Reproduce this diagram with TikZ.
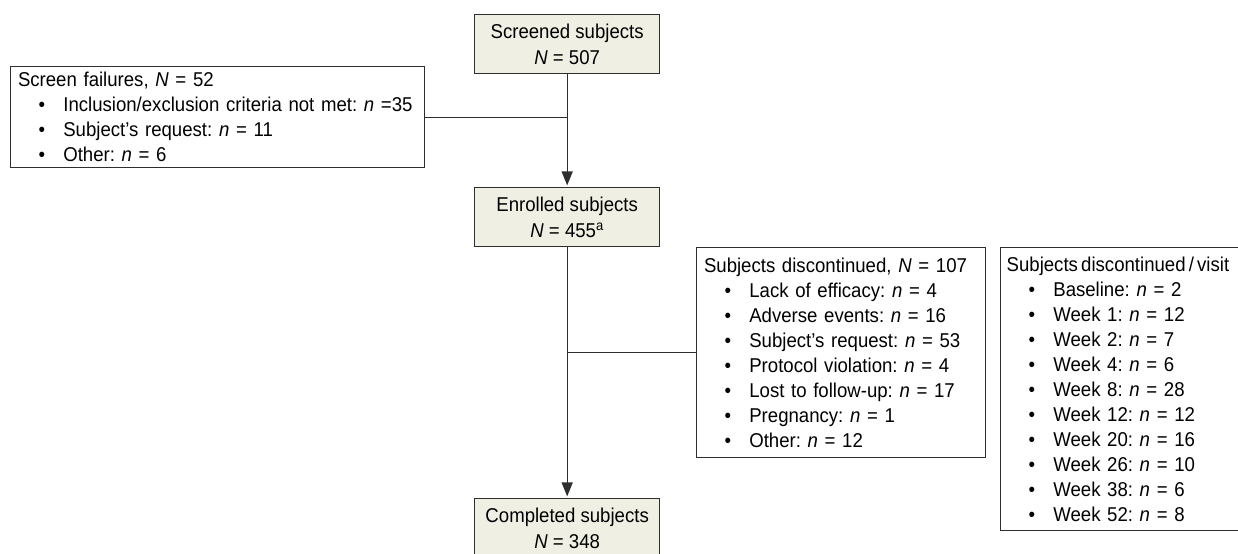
\documentclass[tikz,border=0pt]{standalone}
\usepackage{fontspec}
\setmainfont[FakeStretch=0.93]{Liberation Sans}
\usepackage{tikz}
\usetikzlibrary{arrows.meta}

\definecolor{stagefill}{HTML}{EFF0E3}
\definecolor{linegray}{HTML}{2E2E2E}

% bullet line inside a reason box
\newcommand{\bitem}{\hspace*{15.5pt}\makebox[18.5pt][l]{\textbullet}}

\tikzset{
    stage/.style={draw=linegray, fill=stagefill, line width=1pt, anchor=north west,
        minimum width=138.75pt, minimum height=44.25pt, inner sep=0pt, align=center,
        font=\fontsize{15pt}{19.5pt}\selectfont\frenchspacing},
    reasons/.style={draw=linegray, fill=white, line width=1pt, anchor=north west,
        inner xsep=5.5pt, inner ysep=0pt, align=left,
        font=\fontsize{15pt}{18.75pt}\selectfont\frenchspacing},
    flow/.style={draw=linegray, line width=1pt},
    flowarrow/.style={flow, -{Triangle[length=10.5pt,width=8.25pt]}, shorten >=1.2pt}
}

\begin{document}
\begin{tikzpicture}[x=0.75pt, y=-0.75pt]
            \useasboundingbox (0,0) rectangle (1238,553);
            \clip (0,0) rectangle (1238,553);
            % main stages
            \node[stage] (screened) at (474,14) {Screened subjects\\\textit{N} = 507};
            \node[stage] (enrolled) at (474,187) {Enrolled subjects\\\textit{N} = 455\textsuperscript{a}};
            \node[stage] (completed) at (474,498) {Completed subjects\\\textit{N} = 348};
            % side boxes
            \node[reasons, text width=299.5pt, minimum height=75.75pt] (failures) at (10,66) {%
                Screen failures, \textit{N} = 52\\
                \bitem Inclusion/exclusion criteria not met: \textit{n} =35\\
                \bitem Subject’s request: \textit{n} = 11\\
                \bitem Other: \textit{n} = 6};
            \node[reasons, text width=205.75pt, minimum height=157.5pt] (discont) at (696,247) {%
                Subjects discontinued, \textit{N} = 107\\
                \bitem Lack of efficacy: \textit{n} = 4\\
                \bitem Adverse events: \textit{n} = 16\\
                \bitem Subject’s request: \textit{n} = 53\\
                \bitem Protocol violation: \textit{n} = 4\\
                \bitem Lost to follow-up: \textit{n} = 17\\
                \bitem Pregnancy: \textit{n} = 1\\
                \bitem Other: \textit{n} = 12};
            \node[reasons, text width=184pt, minimum height=212.25pt] (visit) at (1000,247) {%
                \hspace*{-1pt}{\spaceskip=0.16em\relax Subjects discontinued / visit}\\
                \bitem Baseline: \textit{n} = 2\\
                \bitem Week 1: \textit{n} = 12\\
                \bitem Week 2: \textit{n} = 7\\
                \bitem Week 4: \textit{n} = 6\\
                \bitem Week 8: \textit{n} = 28\\
                \bitem Week 12: \textit{n} = 12\\
                \bitem Week 20: \textit{n} = 16\\
                \bitem Week 26: \textit{n} = 10\\
                \bitem Week 38: \textit{n} = 6\\
                \bitem Week 52: \textit{n} = 8};
            % connectors
            \draw[flowarrow] (screened) -- (enrolled);
            \draw[flowarrow] (enrolled) -- (completed);
            \draw[flow] (failures.east) -- (failures.east -| screened.south);
            \draw[flow] (discont.west) -- (discont.west -| enrolled.south);
        \end{tikzpicture}
\end{document}
